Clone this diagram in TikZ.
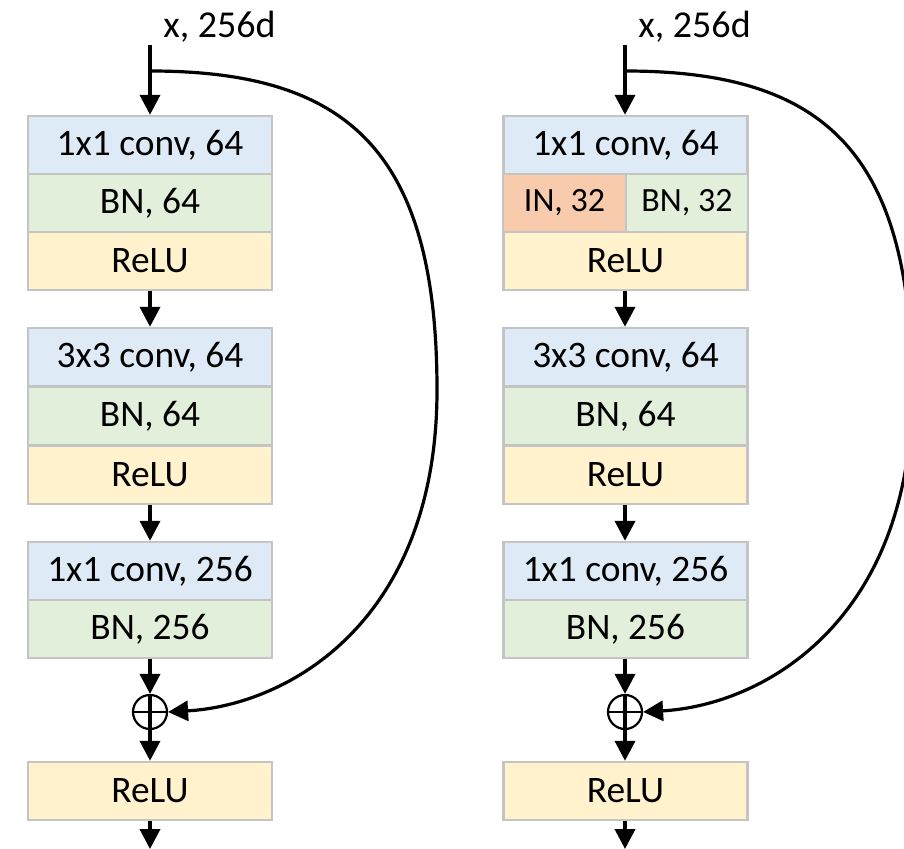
\documentclass[tikz,border=0pt]{standalone}
\usepackage{fontspec}
\setmainfont{Carlito}
\usetikzlibrary{arrows.meta}
\definecolor{convc}{HTML}{DEEBF7}
\definecolor{bnc}{HTML}{E2EFDA}
\definecolor{reluc}{HTML}{FFF2CC}
\definecolor{inc}{HTML}{F8CBAD}
\definecolor{cellgray}{HTML}{C4C4C4}
\begin{document}
\begin{tikzpicture}[x=0.5pt,y=-0.5pt,
  cell/.style={draw=cellgray,line width=1.2pt,minimum width=122pt,minimum height=29pt,inner sep=0pt,font=\fontsize{18.7}{22}\selectfont},
  halfcell/.style={cell,minimum width=61.25pt,font=\fontsize{17}{20}\selectfont},
  convcell/.style={cell,fill=convc},
  bncell/.style={cell,fill=bnc},
  relucell/.style={cell,fill=reluc},
  arr/.style={line width=1.9pt,-{Triangle[width=10pt,length=10pt]}},
  skiparr/.style={line width=1.6pt,-{Triangle[width=10pt,length=10pt]}},
  sumnode/.style={circle,draw,line width=1.1pt,minimum size=17pt,inner sep=0pt},
  lbl/.style={anchor=base west,inner sep=0pt,font=\fontsize{19}{22}\selectfont}]
\useasboundingbox (0,0) rectangle (904,849);
\clip (0,0) rectangle (904,849);
% ---------- left column ----------
\coordinate (Lin) at (150,45);
\coordinate (Lbr) at (150,71);
\coordinate (Lout) at (150,849);
\node[lbl] (Lx) at (163,38) {x, 256d};
\node[convcell] (L1) at (150,145) {1x1 conv, 64};
\node[bncell] (L2) at (150,203) {BN, 64};
\node[relucell] (L3) at (150,261) {ReLU};
\node[convcell] (L4) at (150,357) {3x3 conv, 64};
\node[bncell] (L5) at (150,416) {BN, 64};
\node[relucell] (L6) at (150,475) {ReLU};
\node[convcell] (L7) at (150,571) {1x1 conv, 256};
\node[bncell] (L8) at (150,629) {BN, 256};
\node[sumnode] (Lp) at (150,712) {};
\node[relucell] (L9) at (150,791) {ReLU};
\draw[line width=1.1pt] (Lp.west) -- (Lp.east);
\draw[arr] (Lin) -- (L1.north);
\draw[arr] (L3.south) -- (L4.north);
\draw[arr] (L6.south) -- (L7.north);
\draw[arr] (L8.south) -- (Lp.north);
\draw[arr] (Lp.north) -- (L9.north);
\draw[arr] (L9.south) -- (Lout);
\draw[skiparr] (Lbr) .. controls (346,71) and (437,149) .. (437,390)
  .. controls (437,620) and (290,705) .. (Lp.east);
% ---------- right column ----------
\coordinate (Rin) at (625,45);
\coordinate (Rbr) at (625,71);
\coordinate (Rout) at (625,849);
\node[lbl] (Rx) at (638,38) {x, 256d};
\node[convcell] (R1) at (625.5,145) {1x1 conv, 64};
\node[halfcell,fill=inc] (R2a) at (564.5,203) {IN, 32};
\node[halfcell,fill=bnc] (R2b) at (687,203) {BN, 32};
\node[relucell] (R3) at (625.5,261) {ReLU};
\node[convcell] (R4) at (625.5,357) {3x3 conv, 64};
\node[bncell] (R5) at (625.5,416) {BN, 64};
\node[relucell] (R6) at (625.5,475) {ReLU};
\node[convcell] (R7) at (625.5,571) {1x1 conv, 256};
\node[bncell] (R8) at (625.5,629) {BN, 256};
\node[sumnode] (Rp) at (625,712) {};
\node[relucell] (R9) at (625.5,791) {ReLU};
\draw[line width=1.1pt] (Rp.west) -- (Rp.east);
\draw[arr] (Rin) -- (Rin |- R1.north);
\draw[arr] (Rin |- R3.south) -- (Rin |- R4.north);
\draw[arr] (Rin |- R6.south) -- (Rin |- R7.north);
\draw[arr] (Rin |- R8.south) -- (Rp.north);
\draw[arr] (Rp.north) -- (Rin |- R9.north);
\draw[arr] (Rin |- R9.south) -- (Rout);
\draw[skiparr] (Rbr) .. controls (821,71) and (912,149) .. (912,390)
  .. controls (912,620) and (765,705) .. (Rp.east);
\end{tikzpicture}
\end{document}
